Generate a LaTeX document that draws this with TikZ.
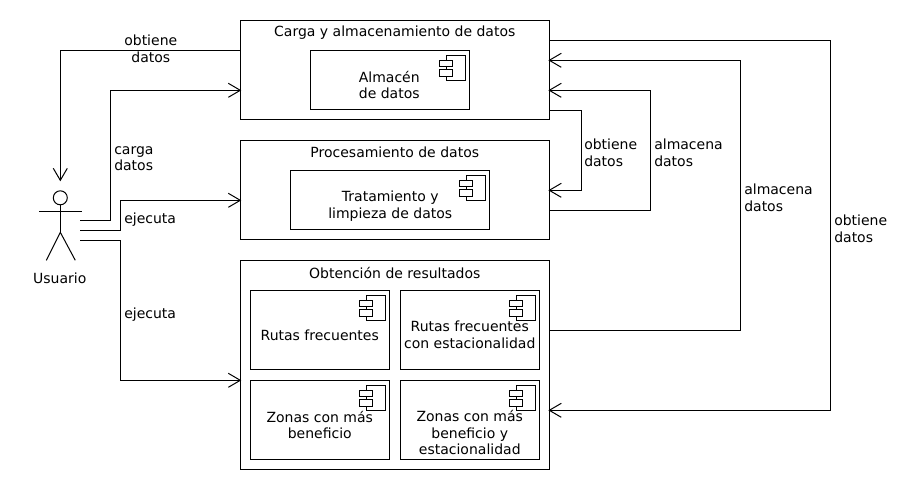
\documentclass[tikz,border=0pt]{standalone}
\usepackage{fontspec}
\setmainfont{DejaVu Sans}
\usetikzlibrary{arrows.meta}
\usetikzlibrary{positioning}

\begin{document}
\begin{tikzpicture}[x=0.75pt,y=-0.75pt,line width=0.75pt]
	\tikzset{box/.style = {shape=rectangle,draw,inner sep = 0pt,outer sep = 0pt,line width=0.75pt}}
	\tikzset{edge/.style = {-{Straight Barb[length=9pt,width=10.5pt,line width=0.75pt]},line width=0.75pt,shorten >=-0.75pt}}
	\tikzset{link/.style = {line width=0.75pt}}
	\tikzset{txt/.style = {inner sep = 0pt,font=\fontsize{10.5}{12.4}\selectfont,align=center,xshift=-0.4pt,yshift=0.4pt}}
	\tikzset{lbl/.style = {txt,align=left,anchor=west}}
	\tikzset{compicon/.pic = {
		\draw (-22.5,5) rectangle (-3.5,30);
		\draw[fill=white] (-29.5,10) rectangle (-16.5,16);
		\draw[fill=white] (-29.5,19) rectangle (-16.5,26);
	}}
	\useasboundingbox (-0.3,-0.3) rectangle (919.7,489.7);

	% containers
	\node[box, minimum width=231.75pt, minimum height=74.25pt] (carga) at (394.5,69.5) {};
	\node[box, minimum width=231.75pt, minimum height=74.25pt] (proc) at (394.5,189.5) {};
	\node[box, minimum width=231.75pt, minimum height=156.75pt] (obt) at (394.5,364.5) {};
	\node[txt] (cargaT) at (395,33) {Carga y almacenamiento de datos};
	\node[txt] (procT) at (395,153) {Procesamiento de datos};
	\node[txt] (obtT) at (395,273) {Obtención de resultados};

	% components
	\node[box, minimum width=119.25pt, minimum height=44.25pt] (alm) at (389.5,79.5) {};
	\node[box, minimum width=149.25pt, minimum height=44.25pt] (trat) at (389.5,199.5) {};
	\node[box, minimum width=104.25pt, minimum height=59.25pt] (rutas) at (319.5,329.5) {};
	\node[box, minimum width=104.25pt, minimum height=59.25pt] (rutasE) at (469.5,329.5) {};
	\node[box, minimum width=104.25pt, minimum height=59.25pt] (zonas) at (319.5,419.5) {};
	\node[box, minimum width=104.25pt, minimum height=59.25pt] (zonasE) at (469.5,419.5) {};
	\pic at (alm.north east) {compicon};
	\pic at (trat.north east) {compicon};
	\pic at (rutas.north east) {compicon};
	\pic at (rutasE.north east) {compicon};
	\pic at (zonas.north east) {compicon};
	\pic at (zonasE.north east) {compicon};
	\node[txt] (almT) at (389.5,85) {Almacén\\de datos};
	\node[txt] (tratT) at (390.5,206.5) {Tratamiento y\\limpieza de datos};
	\node[txt] (rutasT) at (320,336) {Rutas frecuentes};
	\node[txt] (rutasET) at (470,335) {Rutas frecuentes\\con estacionalidad};
	\node[txt] (zonasT) at (320,425) {Zonas con más\\beneficio};
	\node[txt] (zonasET) at (470,433) {Zonas con más\\beneficio y\\estacionalidad};

	% actor
	\node[shape=circle,draw,minimum size=10.5pt,inner sep=0pt] (head) at (60,197.5) {};
	\coordinate (hip) at (60,232);
	\coordinate (armL) at (39,211);
	\coordinate (armR) at (82,211);
	\coordinate (legL) at (46,260);
	\coordinate (legR) at (75,260);
	\coordinate (top) at (60,180);
	\draw[link] (head) -- (hip);
	\draw[link] (armL) -- (armR);
	\draw[link] (legL) -- (hip) -- (legR);
	\node[txt] (usr) at (60,279) {Usuario};
	\coordinate (usrA) at (80,220);
	\coordinate (usrB) at (80,230);
	\coordinate (usrC) at (80,240);

	% edges
	\draw[edge] (carga.west |- 0,50) -- (60,50) -- (top);
	\draw[edge] (usrA) -- (110,220) -- (110,90) -- (carga.west |- 0,90);
	\draw[edge] (usrB) -- (120,230) -- (120,200) -- (proc.west |- 0,200);
	\draw[edge] (usrC) -- (120,240) -- (120,380) -- (obt.west |- 0,380);
	\draw[edge] (carga.east |- 0,110) -- (581,110) -- (581,190) -- (proc.east |- 0,190);
	\draw[edge] (proc.east |- 0,210) -- (650,210) -- (650,90) -- (carga.east |- 0,90);
	\draw[edge] (obt.east |- 0,330) -- (740,330) -- (740,60) -- (carga.east |- 0,60);
	\draw[edge] (carga.east |- 0,40) -- (830,40) -- (830,410) -- (obt.east |- 0,410);

	% edge labels
	\node[txt] (lblA) at (151,49) {obtiene\\datos};
	\node[lbl] (lblB) at (114,159) {carga\\datos};
	\node[lbl] (lblC) at (124,220) {ejecuta};
	\node[lbl] (lblD) at (124,315) {ejecuta};
	\node[lbl] (lblE) at (584,153) {obtiene\\datos};
	\node[lbl] (lblF) at (654,153) {almacena\\datos};
	\node[lbl] (lblG) at (744,198) {almacena\\datos};
	\node[lbl] (lblH) at (834,229) {obtiene\\datos};
\end{tikzpicture}
\end{document}
